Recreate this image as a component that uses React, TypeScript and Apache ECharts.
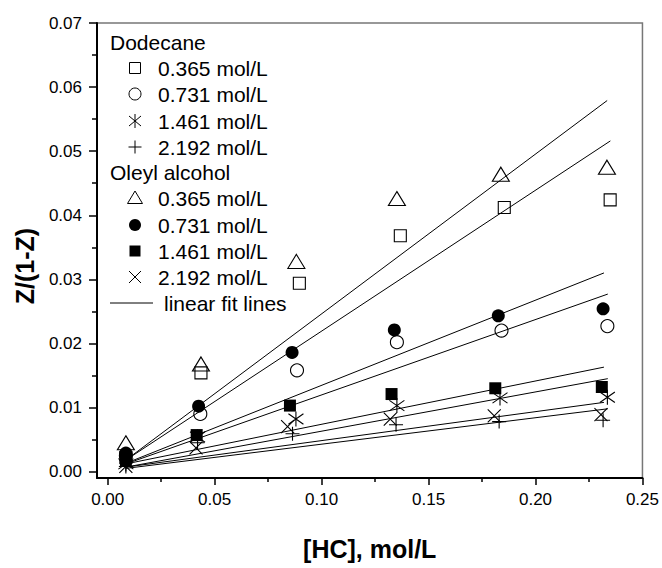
import React, { useEffect, useRef } from "react";
import * as echarts from "echarts";

// ---- axis ticks ----
const xTicks = [0, 0.05, 0.1, 0.15, 0.2, 0.25];
const xMinorTicks = [0.025, 0.075, 0.125, 0.175, 0.225];
const yTicks = [0, 0.01, 0.02, 0.03, 0.04, 0.05, 0.06, 0.07];
const yMinorTicks = [0.005, 0.015, 0.025, 0.035, 0.045, 0.055, 0.065];

// ---- Dodecane ----
const dod365X = [0.0085, 0.0436, 0.0896, 0.1368, 0.1854, 0.2349];
const dod365Y = [0.0022, 0.0154, 0.0294, 0.0368, 0.0412, 0.0424];
const dod731X = [0.0085, 0.0433, 0.0885, 0.1352, 0.1841, 0.2336];
const dod731Y = [0.0025, 0.009, 0.0158, 0.0202, 0.022, 0.0227];
const dod1461X = [0.0085, 0.042, 0.088, 0.1352, 0.1834, 0.2336];
const dod1461Y = [0.0012, 0.0054, 0.0082, 0.0103, 0.0115, 0.0116];
const dod2192X = [0.0085, 0.042, 0.0864, 0.1348, 0.183, 0.2316];
const dod2192Y = [0.0008, 0.0045, 0.0059, 0.0073, 0.0078, 0.008];

// ---- Oleyl alcohol ----
const ole365X = [0.0085, 0.0436, 0.0882, 0.1352, 0.1838, 0.2334];
const ole365Y = [0.0045, 0.0168, 0.0328, 0.0426, 0.0464, 0.0475];
const ole731X = [0.0085, 0.0425, 0.0862, 0.134, 0.1826, 0.2316];
const ole731Y = [0.0029, 0.0102, 0.0186, 0.0221, 0.0243, 0.0254];
const ole1461X = [0.0085, 0.0416, 0.0852, 0.1327, 0.1812, 0.231];
const ole1461Y = [0.0018, 0.0057, 0.0103, 0.0121, 0.013, 0.0132];
const ole2192X = [0.0085, 0.0413, 0.0841, 0.1321, 0.1807, 0.2306];
const ole2192Y = [0.0008, 0.0037, 0.007, 0.0082, 0.0087, 0.0089];

// ---- linear fit lines: [xStart, yStart, xEnd, yEnd] ----
const fitOle365 = [0.0085, 0.0018, 0.2335, 0.0579];
const fitDod365 = [0.0085, 0.0018, 0.235, 0.0516];
const fitOle731 = [0.0085, 0.0013, 0.232, 0.031];
const fitDod731 = [0.0085, 0.0012, 0.2338, 0.0277];
const fitOle1461 = [0.0085, 0.0012, 0.232, 0.0163];
const fitDod1461 = [0.0085, 0.0007, 0.2338, 0.0145];
const fitOle2192 = [0.0085, 0.0007, 0.232, 0.0108];
const fitDod2192 = [0.0085, 0.0005, 0.2338, 0.0098];

const concLabels = ["0.365 mol/L", "0.731 mol/L", "1.461 mol/L", "2.192 mol/L"];
const groupLabels = ["Dodecane", "Oleyl alcohol"];
const fitLabel = "linear fit lines";

const FONT = '"Liberation Sans", Arial, sans-serif';

const ASTERISK = "path://M5,0L5,10M0.8,1.5L9.2,8.5M0.8,8.5L9.2,1.5";
const PLUS = "path://M5,0L5,10M0,5L10,5";
const CROSS = "path://M0,0L10,10M0,10L10,0";

type Kind = "oRect" | "oCircle" | "asterisk" | "plus" | "oTri" | "fCircle" | "fRect" | "cross";

const symbolFor: Record<Kind, { symbol: string; size: any; fill: string }> = {
  oRect: { symbol: "rect", size: 12, fill: "none" },
  oCircle: { symbol: "circle", size: 13, fill: "none" },
  asterisk: { symbol: ASTERISK, size: 15, fill: "none" },
  plus: { symbol: PLUS, size: 14, fill: "none" },
  oTri: { symbol: "triangle", size: [17, 14], fill: "none" },
  fCircle: { symbol: "circle", size: 13, fill: "#000" },
  fRect: { symbol: "rect", size: 12, fill: "#000" },
  cross: { symbol: CROSS, size: 13, fill: "none" },
};

function zip(xs: number[], ys: number[]) {
  return xs.map((x, i) => [x, ys[i]]);
}

function legendMarker(kind: Kind, cx: number, cy: number): any {
  const st = { stroke: "#000", lineWidth: 1, fill: "none" };
  const ln = (x1: number, y1: number, x2: number, y2: number) => ({
    type: "line",
    shape: { x1, y1, x2, y2 },
    style: { stroke: "#000", lineWidth: 1 },
  });
  switch (kind) {
    case "oRect":
      return { type: "rect", shape: { x: cx - 5.5, y: cy - 5.5, width: 11, height: 11 }, style: st };
    case "oCircle":
      return { type: "circle", shape: { cx, cy, r: 6 }, style: st };
    case "fCircle":
      return { type: "circle", shape: { cx, cy, r: 6 }, style: { fill: "#000" } };
    case "fRect":
      return { type: "rect", shape: { x: cx - 5.5, y: cy - 5.5, width: 11, height: 11 }, style: { fill: "#000" } };
    case "oTri":
      return {
        type: "polygon",
        shape: { points: [[cx, cy - 7], [cx + 7.5, cy + 5.5], [cx - 7.5, cy + 5.5]] },
        style: st,
      };
    case "plus":
      return { type: "group", children: [ln(cx, cy - 6.5, cx, cy + 6.5), ln(cx - 6.5, cy, cx + 6.5, cy)] };
    case "cross":
      return { type: "group", children: [ln(cx - 6, cy - 6, cx + 6, cy + 6), ln(cx - 6, cy + 6, cx + 6, cy - 6)] };
    case "asterisk":
      return {
        type: "group",
        children: [
          ln(cx, cy - 7, cx, cy + 7),
          ln(cx - 6, cy - 5, cx + 6, cy + 5),
          ln(cx - 6, cy + 5, cx + 6, cy - 5),
        ],
      };
  }
}

export default function App() {
  const ref = useRef<HTMLDivElement>(null);
  useEffect(() => {
    if (!ref.current) return;
    const chart = echarts.init(ref.current, undefined, { renderer: "svg" });

    const scatterDefs: { name: string; kind: Kind; data: number[][] }[] = [
      { name: "Dodecane " + concLabels[0], kind: "oRect", data: zip(dod365X, dod365Y) },
      { name: "Dodecane " + concLabels[1], kind: "oCircle", data: zip(dod731X, dod731Y) },
      { name: "Dodecane " + concLabels[2], kind: "asterisk", data: zip(dod1461X, dod1461Y) },
      { name: "Dodecane " + concLabels[3], kind: "plus", data: zip(dod2192X, dod2192Y) },
      { name: "Oleyl alcohol " + concLabels[0], kind: "oTri", data: zip(ole365X, ole365Y) },
      { name: "Oleyl alcohol " + concLabels[1], kind: "fCircle", data: zip(ole731X, ole731Y) },
      { name: "Oleyl alcohol " + concLabels[2], kind: "fRect", data: zip(ole1461X, ole1461Y) },
      { name: "Oleyl alcohol " + concLabels[3], kind: "cross", data: zip(ole2192X, ole2192Y) },
    ];
    const fits = [fitOle365, fitDod365, fitOle731, fitDod731, fitOle1461, fitDod1461, fitOle2192, fitDod2192];

    const series: any[] = [];
    fits.forEach((f, i) => {
      series.push({
        type: "line",
        name: "fit" + i,
        data: [
          [f[0], f[1]],
          [f[2], f[3]],
        ],
        showSymbol: false,
        symbol: "none",
        silent: true,
        lineStyle: { color: "#000", width: 1 },
      });
    });
    scatterDefs.forEach((d) => {
      const s = symbolFor[d.kind];
      series.push({
        type: "scatter",
        name: d.name,
        data: d.data,
        symbol: s.symbol,
        symbolSize: s.size,
        silent: true,
        itemStyle: {
          color: s.fill,
          opacity: 1,
          borderColor: "#000",
          borderWidth: s.fill === "none" ? 1.1 : 0,
        },
      });
    });

    // Legend (graphic)
    const graphics: any[] = [];
    const rowsY = [42, 68, 94, 121, 147, 172, 198, 225, 251, 277, 303];
    const markerX = 135;
    const textX = 158;
    const headX = 110;
    const textStyle = (text: string, x: number, y: number) => ({
      type: "text",
      x,
      y,
      style: { text, font: `21px ${FONT}`, fill: "#000", verticalAlign: "middle", textVerticalAlign: "middle" },
    });
    graphics.push(textStyle(groupLabels[0], headX, rowsY[0]));
    (["oRect", "oCircle", "asterisk", "plus"] as Kind[]).forEach((k, i) => {
      graphics.push(legendMarker(k, markerX, rowsY[1 + i]));
      graphics.push(textStyle(concLabels[i], textX, rowsY[1 + i]));
    });
    graphics.push(textStyle(groupLabels[1], headX, rowsY[5]));
    (["oTri", "fCircle", "fRect", "cross"] as Kind[]).forEach((k, i) => {
      graphics.push(legendMarker(k, markerX, rowsY[6 + i]));
      graphics.push(textStyle(concLabels[i], textX, rowsY[6 + i]));
    });
    graphics.push({
      type: "line",
      shape: { x1: 110, y1: rowsY[10], x2: 153, y2: rowsY[10] },
      style: { stroke: "#000", lineWidth: 1 },
    });
    graphics.push(textStyle(fitLabel, 164, rowsY[10]));
    // y-axis title
    graphics.push({
      type: "text",
      x: 25,
      y: 266,
      rotation: Math.PI / 2,
      style: {
        text: "Z/(1-Z)",
        font: `bold 25px ${FONT}`,
        fill: "#000",
        align: "center",
        textAlign: "center",
        verticalAlign: "middle",
        textVerticalAlign: "middle",
      },
    });

    const xMin = -0.005,
      xMax = 0.25,
      yMin = -0.001,
      yMax = 0.07;

    chart.setOption({
      animation: false,
      backgroundColor: "#fff",
      textStyle: { fontFamily: FONT },
      grid: {
        left: 97,
        right: 19,
        top: 23,
        bottom: 90,
        show: true,
        borderColor: "#777",
        borderWidth: 1.5,
        backgroundColor: "transparent",
      },
      xAxis: [
        {
          type: "value",
          min: xMin,
          max: xMax,
          position: "bottom",
          name: "[HC], mol/L",
          nameLocation: "middle",
          nameGap: 58,
          nameTextStyle: { fontSize: 25, fontWeight: "bold", color: "#000", fontFamily: FONT },
          axisLine: { onZero: false, lineStyle: { color: "#000", width: 2 } },
          axisTick: { customValues: xTicks, length: 7, inside: false, lineStyle: { color: "#000", width: 1.5 } },
          axisLabel: {
            customValues: xTicks,
            formatter: (v: number) => v.toFixed(2),
            fontSize: 17,
            color: "#000",
            margin: 13,
            fontFamily: FONT,
          },
          splitLine: { show: false },
        },
        {
          type: "value",
          min: xMin,
          max: xMax,
          position: "bottom",
          axisLine: { show: false, onZero: false },
          axisTick: { customValues: xMinorTicks, length: 4, inside: false, lineStyle: { color: "#000", width: 1.5 } },
          axisLabel: { show: false },
          splitLine: { show: false },
        },
      ],
      yAxis: [
        {
          type: "value",
          min: yMin,
          max: yMax,
          position: "left",
          axisLine: { onZero: false, lineStyle: { color: "#000", width: 2 } },
          axisTick: { customValues: yTicks, length: 8, inside: false, lineStyle: { color: "#000", width: 1.5 } },
          axisLabel: {
            customValues: yTicks,
            formatter: (v: number) => v.toFixed(2),
            fontSize: 17,
            color: "#000",
            margin: 15,
            fontFamily: FONT,
          },
          splitLine: { show: false },
        },
        {
          type: "value",
          min: yMin,
          max: yMax,
          position: "left",
          axisLine: { show: false, onZero: false },
          axisTick: { customValues: yMinorTicks, length: 5, inside: false, lineStyle: { color: "#000", width: 1.5 } },
          axisLabel: { show: false },
          splitLine: { show: false },
        },
      ],
      series,
      graphic: graphics,
    });

    return () => chart.dispose();
  }, []);

  return (
    <div
      ref={ref}
      style={{ position: "fixed", left: 0, top: 0, width: 662, height: 568, background: "#fff" }}
    />
  );
}
